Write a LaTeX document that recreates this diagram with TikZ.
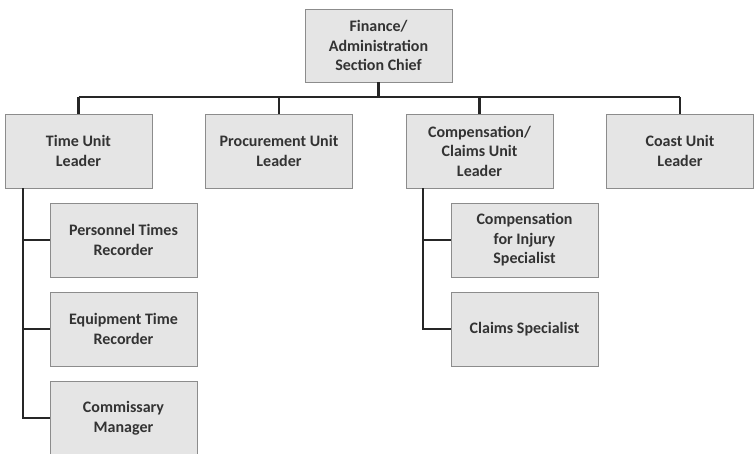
\documentclass[tikz,border=0pt]{standalone}
\usepackage{fontspec}
\setmainfont{Carlito}
\begin{document}
\begin{tikzpicture}[x=1pt,y=-1pt,
  box/.style={draw=black!45,fill=black!10,line width=0.8pt,minimum width=147pt,minimum height=74pt,
    align=center,inner sep=2pt,font=\fontsize{16}{19.5}\selectfont\bfseries,text=black!80},
  conn/.style={draw=black!85,line width=2.2pt}]
\useasboundingbox (0,0) rectangle (754,453);
\clip (0,0) rectangle (754,453);
\node[box,minimum height=73pt] (top) at (378.5,45.5) {Finance/\\Administration\\Section Chief};
\node[box] (time) at (78.5,151) {Time Unit\\Leader};
\node[box] (proc) at (279,151) {Procurement Unit\\Leader};
\node[box] (comp) at (479.5,151) {Compensation/\\Claims Unit\\Leader};
\node[box] (coast) at (680,151) {Coast Unit\\Leader};
\node[box] (ptr) at (123.5,240) {Personnel Times\\Recorder};
\node[box] (etr) at (123.5,329) {Equipment Time\\Recorder};
\node[box] (cm) at (123.5,418) {Commissary\\Manager};
\node[box] (cis) at (524.5,240) {Compensation\\for Injury\\Specialist};
\node[box] (cs) at (524.5,329) {Claims Specialist};
\coordinate (bus) at (378.5,97);
\coordinate (busL) at (time.north |- bus);
\coordinate (busR) at (coast.north |- bus);
\draw[conn] (top.south) -- (bus);
\draw[conn] (busL) -- (busR);
\foreach \n in {time,proc,comp,coast}{\draw[conn] (\n.north) -- (\n.north |- bus);}
\coordinate (tv) at ([xshift=18pt]time.south west);
\draw[conn] (tv) |- (ptr.west);
\draw[conn] (tv) |- (etr.west);
\draw[conn] (tv) |- (cm.west);
\coordinate (cv) at ([xshift=17pt]comp.south west);
\draw[conn] (cv) |- (cis.west);
\draw[conn] (cv) |- (cs.west);
\end{tikzpicture}
\end{document}
